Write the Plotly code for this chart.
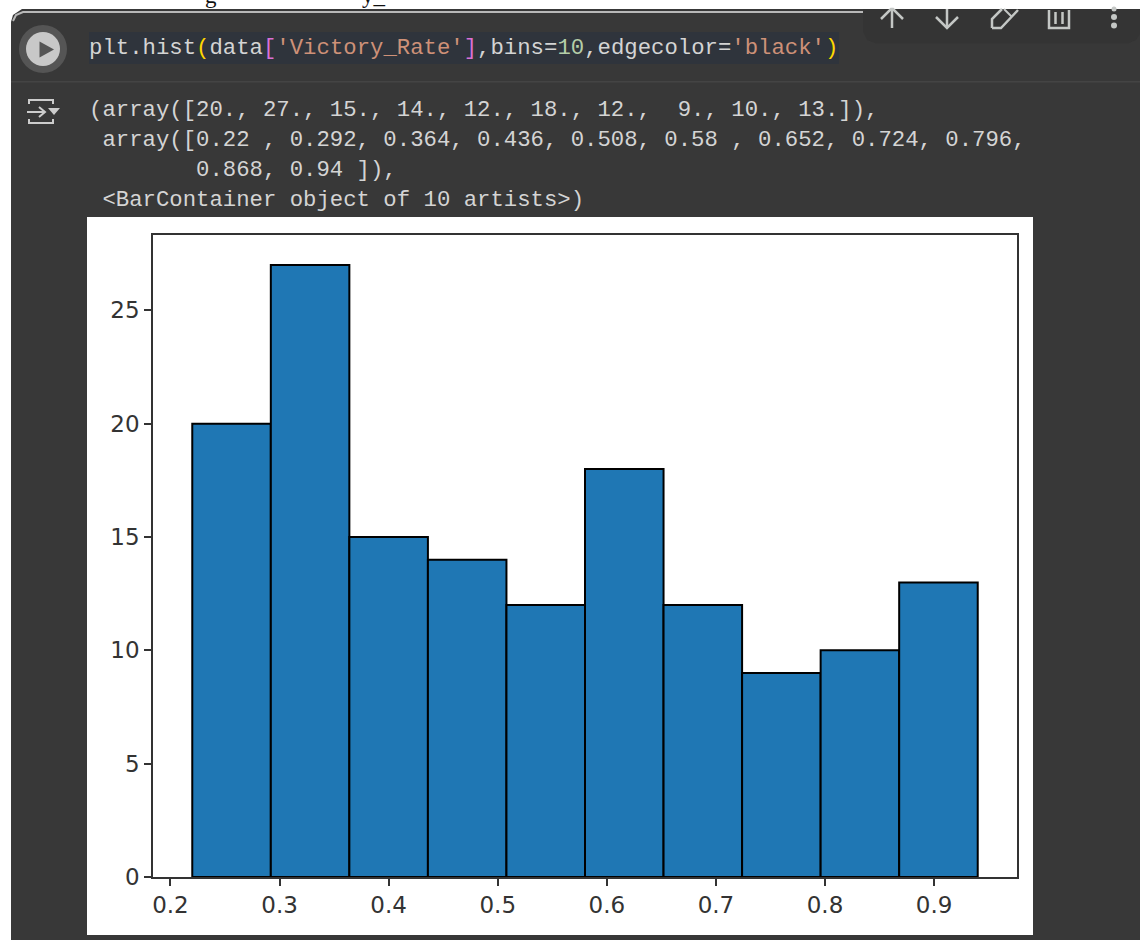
import plotly.graph_objects as go

counts = [20, 27, 15, 14, 12, 18, 12, 9, 10, 13]
bin_edges = [0.22, 0.292, 0.364, 0.436, 0.508, 0.58, 0.652, 0.724, 0.796, 0.868, 0.94]
x_ticks = [0.2, 0.3, 0.4, 0.5, 0.6, 0.7, 0.8, 0.9]
y_ticks = [0, 5, 10, 15, 20, 25]

W, H = 1140, 940
DARK = "#383838"
NB = "\u00a0"


def px(x):
    return x / W


def py(y):
    return 1 - y / H


def rect(x0, y0, x1, y1, fill):
    return dict(type="rect", xref="paper", yref="paper", x0=px(x0), x1=px(x1), y0=py(y0), y1=py(y1),
                fillcolor=fill, line_width=0, layer="below")


def line(x0, y0, x1, y1, color, width=2):
    return dict(type="line", xref="paper", yref="paper", x0=px(x0), x1=px(x1), y0=py(y0), y1=py(y1),
                line=dict(color=color, width=width), layer="above")


def circle(cx, cy, r, fill, layer="below"):
    return dict(type="circle", xref="paper", yref="paper", x0=px(cx - r), x1=px(cx + r), y0=py(cy - r), y1=py(cy + r),
                fillcolor=fill, line_width=0, layer=layer)


def poly(points, fill=None, color=None, width=2, layer="above"):
    d = "M " + " L ".join(f"{px(a):.5f},{py(b):.5f}" for a, b in points)
    if fill:
        d += " Z"
    return dict(type="path", xref="paper", yref="paper", path=d, fillcolor=fill or "rgba(0,0,0,0)",
                line=dict(color=color or "rgba(0,0,0,0)", width=width), layer=layer)


ICON = "#c4c7c5"
OUT = "#cccccc"
shapes = [
    rect(0, 0, W, H, "#ffffff"),
    poly([(11, 940), (11, 22), (13, 15), (22, 9), (1140, 9), (1140, 940)], fill=DARK, color=DARK, width=0, layer="below"),
    poly([(13, 21), (16, 15), (23, 12), (863, 12)], color="#b8b8b8", width=2),
    poly([(863, 9), (863, 32), (867, 40), (876, 43.5), (1128, 43.5), (1136, 40), (1140, 34), (1140, 9)],
         fill="#343434", color="#343434", width=0, layer="below"),
    rect(11, 81, 1140, 82.5, "#444444"),
    rect(89, 32, 839, 64, "#2f343c"),
    rect(87, 217, 1033, 935, "#ffffff"),
    circle(43, 49, 24, "#555555"),
    circle(43, 49, 17, "#c8c8c8"),
    poly([(39.5, 41.5), (39.5, 57.5), (54, 49.5)], fill="#555555", layer="above"),
    # output icon
    poly([(29, 104), (29, 100), (53, 100), (53, 104)], color=OUT),
    poly([(29, 119), (29, 123), (53, 123), (53, 119)], color=OUT),
    poly([(27, 112), (44, 112)], color=OUT),
    poly([(39, 107), (45, 112), (39, 117)], color=OUT),
    poly([(48, 108), (60, 108), (54, 115)], fill=OUT, color=OUT, width=0),
    # toolbar icons
    poly([(892, 28), (892, 9)], color=ICON, width=2.5),
    poly([(881, 19), (891, 9), (893, 9), (903, 19)], color=ICON, width=2.5),
    poly([(947, 9), (947, 28)], color=ICON, width=2.5),
    poly([(936, 17), (947, 28), (958, 17)], color=ICON, width=2.5),
    poly([(992, 28), (992, 19), (1002, 9)], color=ICON, width=2.5),
    poly([(992, 28), (1001, 28), (1018, 10)], color=ICON, width=2.5),
    poly([(1004, 9), (1012, 17)], color=ICON, width=2),
    poly([(1049, 10), (1049, 28), (1069, 28), (1069, 10)], color=ICON, width=2.5),
    line(1055.5, 12, 1055.5, 24, ICON, 2.5),
    line(1062.5, 12, 1062.5, 24, ICON, 2.5),
    circle(1114, 17, 3, ICON, "above"),
    circle(1114, 25.5, 3, ICON, "above"),
    circle(1114, 9, 2.5, ICON, "above"),
]

FG = "#d4d4d4"
STR = "#ce9178"
NUM = "#b5cea8"
YEL = "#ffd700"
MAG = "#da70d6"


def sp(t, c):
    return f'<span style="color:{c}">{t}</span>'


code_line = (
    sp("plt.hist", FG) + sp("(", YEL) + sp("data", FG) + sp("[", MAG) + sp("'Victory_Rate'", STR) + sp("]", MAG)
    + sp(",bins=", FG) + sp("10", NUM) + sp(",edgecolor=", FG) + sp("'black'", STR) + sp(")", YEL)
)
out_lines = [
    ("(array([20., 27., 15., 14., 12., 18., 12.,  9., 10., 13.]),", 110),
    (" array([0.22 , 0.292, 0.364, 0.436, 0.508, 0.58 , 0.652, 0.724, 0.796,", 140),
    ("        0.868, 0.94 ]),", 170),
    (" <BarContainer object of 10 artists>)", 200),
]


def label(x, y, text, size=22.3, family="Liberation Mono", color=FG, xanchor="left"):
    return dict(xref="paper", yref="paper", x=px(x), y=py(y), text=text, showarrow=False, xanchor=xanchor,
                yanchor="middle", borderpad=0, borderwidth=0, font=dict(family=family, size=size, color=color))


annotations = [label(89, 48, code_line)]
for t, y in out_lines:
    annotations.append(label(89, y, t.replace(" ", NB).replace("<", "&lt;").replace(">", "&gt;")))
annotations.append(label(205, -5, "g", size=23, family="Liberation Serif", color="#111111"))
annotations.append(label(362, -5, "y_", size=23, family="Liberation Serif", color="#111111"))

centers = [(a + b) / 2 for a, b in zip(bin_edges[:-1], bin_edges[1:])]
widths = [b - a for a, b in zip(bin_edges[:-1], bin_edges[1:])]

fig = go.Figure(go.Bar(x=centers, y=counts, width=widths, marker=dict(color="#1f77b4", line=dict(color="#000000", width=2))))

TICK = "#333333"
axis = dict(showline=True, mirror=True, linecolor=TICK, linewidth=1.5, showgrid=False, zeroline=False,
            ticks="outside", ticklen=7, tickwidth=1.5, tickcolor=TICK,
            tickfont=dict(family="DejaVu Sans", size=23, color=TICK))
fig.update_layout(
    width=W, height=H, margin=dict(l=0, r=0, t=0, b=0, autoexpand=False), autosize=False,
    paper_bgcolor="#ffffff", plot_bgcolor="rgba(0,0,0,0)", showlegend=False,
    xaxis=dict(axis, domain=[px(153), px(1017)], range=[0.184, 0.976], tickmode="array", tickvals=x_ticks,
               ticktext=[f"{v:.1f}" for v in x_ticks]),
    yaxis=dict(axis, domain=[py(877), py(234.5)], range=[0, 28.35], tickmode="array", tickvals=y_ticks,
               ticktext=[str(v) for v in y_ticks]),
    shapes=shapes, annotations=annotations,
)
fig.write_html("out.html", config=dict(displayModeBar=False), post_script="document.body.style.margin='0';document.body.style.overflow='hidden';")
